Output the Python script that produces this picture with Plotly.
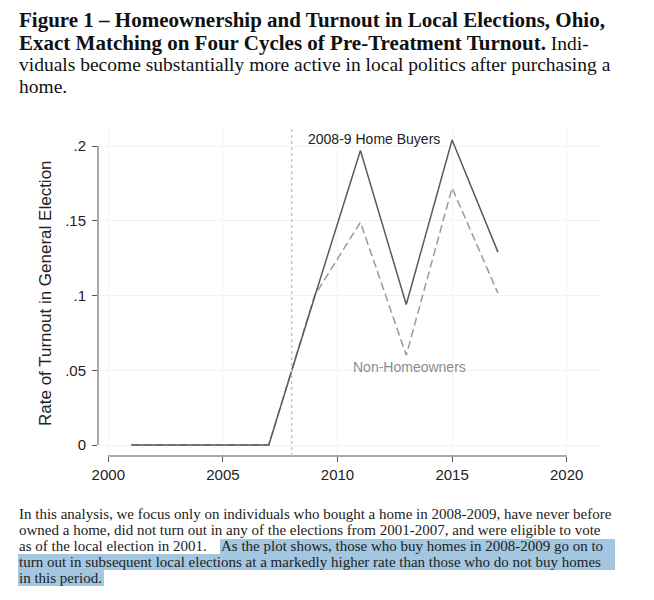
import plotly.graph_objects as go

# ---------------- data ----------------
years = [2001, 2003, 2005, 2007, 2009, 2011, 2013, 2015, 2017]
home_buyers = [0, 0, 0, 0, 0.099, 0.197, 0.094, 0.204, 0.129]
non_homeowners = [0, 0, 0, 0, 0.100, 0.149, 0.060, 0.172, 0.1015]
x_ticks = [2000, 2005, 2010, 2015, 2020]
y_ticks = [0, 0.05, 0.1, 0.15, 0.2]
y_tick_labels = ["0", ".05", ".1", ".15", ".2"]
treat_year = 2008

BOLD = '<span style="font-size:21px"><b>%s</b></span>'
title_lines = [
    BOLD % "Figure 1 – Homeownership and Turnout in Local Elections, Ohio,",
    BOLD % "Exact Matching on Four Cycles of Pre-Treatment Turnout." + " Indi-",
    "viduals become substantially more active in local politics after purchasing a",
    "home.",
]
para_lines = [
    "In this analysis, we focus only on individuals who bought a home in 2008-2009, have never before",
    "owned a home, did not turn out in any of the elections from 2001-2007, and were eligible to vote",
    "as of the local election in 2001.",
    "turn out in subsequent local elections at a markedly higher rate than those who do not buy homes",
    "in this period.",
]
para_highlight_line3 = "As the plot shows, those who buy homes in 2008-2009 go on to"

# ---------------- layout geometry ----------------
# page pixel coordinates (the browser puts the figure 8px from the page corner)
OFF = 8
PAGE_W, PAGE_H = 654, 600
W, H = PAGE_W - OFF, PAGE_H - OFF
AX_L, AX_R, AX_T, AX_B = 98, 600, 128, 456
L, R, T, B = AX_L - OFF, PAGE_W - AX_R, AX_T - OFF, PAGE_H - AX_B
PW = AX_R - AX_L
PH = AX_B - AX_T


def px(xp):
    return (xp - AX_L) / PW


def py(yp):
    return (AX_B - yp) / PH


x_px_2000, x_px_per_year = 108.3, 22.92
y_px_0, y_px_per_unit = 445.0, 1495.0
x_range = [2000 + (AX_L - x_px_2000) / x_px_per_year,
           2000 + (AX_R - x_px_2000) / x_px_per_year]
y_range = [(y_px_0 - AX_B) / y_px_per_unit, (y_px_0 - AX_T) / y_px_per_unit]

fig = go.Figure()
fig.add_trace(go.Scatter(x=years, y=non_homeowners, mode="lines",
                         line=dict(color="#9a9a9a", width=1.5, dash="8px,4px"),
                         showlegend=False))
fig.add_trace(go.Scatter(x=years, y=home_buyers, mode="lines",
                         line=dict(color="#5a5a5a", width=1.5),
                         showlegend=False))

sans = "Liberation Sans, Arial, sans-serif"
serif = "Liberation Serif, Times New Roman, serif"
axis_font = dict(family=sans, size=15, color="#222")
HL = "#a3c7e1"

shapes = [
    dict(type="line", xref="x", yref="paper", x0=x_ticks[0], x1=x_ticks[-1], y0=0, y1=0,
         line=dict(color="#555", width=1)),
    dict(type="line", xref="paper", yref="y", x0=0, x1=0, y0=y_ticks[0], y1=y_ticks[-1],
         line=dict(color="#555", width=1)),
    dict(type="line", xref="x", yref="paper", x0=treat_year, x1=treat_year, y0=0, y1=1,
         line=dict(color="#c4c4c4", width=1.5, dash="dot")),
    dict(type="rect", xref="paper", yref="paper", x0=px(220), x1=px(615), y0=py(539), y1=py(554),
         fillcolor=HL, line=dict(width=0), layer="below"),
    dict(type="rect", xref="paper", yref="paper", x0=px(18), x1=px(615), y0=py(554), y1=py(570),
         fillcolor=HL, line=dict(width=0), layer="below"),
    dict(type="rect", xref="paper", yref="paper", x0=px(18), x1=px(104), y0=py(570), y1=py(586),
         fillcolor=HL, line=dict(width=0), layer="below"),
]

annotations = [
    dict(x=2000 + (306 - x_px_2000) / x_px_per_year, y=(y_px_0 - 139.3) / y_px_per_unit,
         xref="x", yref="y", text="2008-9 Home Buyers", showarrow=False,
         xanchor="left", yanchor="middle",
         font=dict(family=sans, size=14, color="#222")),
    dict(x=2000 + (350.7 - x_px_2000) / x_px_per_year, y=(y_px_0 - 367.3) / y_px_per_unit,
         xref="x", yref="y", text="Non-Homeowners", showarrow=False,
         xanchor="left", yanchor="middle",
         font=dict(family=sans, size=14, color="#8c8c8c")),
    dict(x=px(45), y=py(293), xref="paper", yref="paper",
         text="Rate of Turnout in General Election", textangle=-90, showarrow=False,
         xanchor="center", yanchor="middle",
         font=dict(family=sans, size=17, color="#222")),
]

title_y = [20, 43, 64, 86]
for t, yy in zip(title_lines, title_y):
    annotations.append(dict(x=px(17), y=py(yy), xref="paper", yref="paper", text=t,
                            showarrow=False, xanchor="left", yanchor="middle",
                            font=dict(family=serif, size=19.5, color="#111")))

para_y = [514, 530, 546, 562, 578]
for t, yy in zip(para_lines, para_y):
    annotations.append(dict(x=px(17), y=py(yy), xref="paper", yref="paper", text=t,
                            showarrow=False, xanchor="left", yanchor="middle",
                            font=dict(family=serif, size=15, color="#222")))
annotations.append(dict(x=px(219), y=py(para_y[2]), xref="paper", yref="paper",
                        text=para_highlight_line3, showarrow=False,
                        xanchor="left", yanchor="middle",
                        font=dict(family=serif, size=15, color="#222")))

fig.update_layout(
    width=W, height=H,
    margin=dict(l=L, r=R, t=T, b=B, pad=0),
    paper_bgcolor="white", plot_bgcolor="white",
    shapes=shapes, annotations=annotations,
    xaxis=dict(range=x_range, tickvals=x_ticks, ticks="outside", ticklen=5,
               tickcolor="#555", tickwidth=1, showline=False, zeroline=False,
               showgrid=True, gridcolor="#f2f2f2", gridwidth=1,
               tickfont=axis_font, fixedrange=True),
    yaxis=dict(range=y_range, tickvals=y_ticks, ticktext=y_tick_labels,
               ticks="outside", ticklen=5, tickcolor="#555", tickwidth=1,
               ticklabelstandoff=3,
               showline=False, zeroline=False, showgrid=True,
               gridcolor="#f2f2f2", gridwidth=1, tickfont=axis_font, fixedrange=True),
)

fig.write_html("out.html")
